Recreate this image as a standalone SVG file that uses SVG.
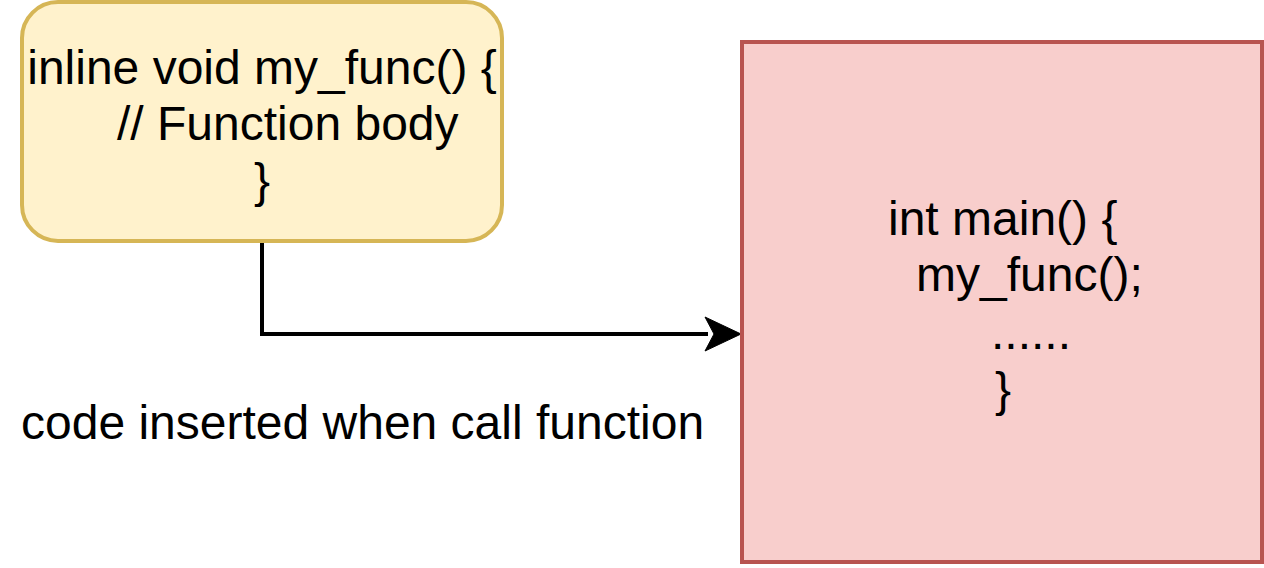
<svg xmlns="http://www.w3.org/2000/svg" width="1264" height="568" viewBox="0 0 1264 568">
<style>
.t{font-family:"Liberation Sans",Arial,sans-serif;font-size:48px;fill:#000}
</style>
<rect width="1264" height="568" fill="#ffffff"/>
<g id="connectors">
<path d="M262,243 L262,334 L708,334" fill="none" stroke="#000" stroke-width="4"/>
<path d="M741,334 L705,317 L714,334 L705,351 Z" fill="#000" stroke="#000" stroke-width="1"/>
</g>
<g id="inline-func">
<rect x="22" y="2" width="480" height="239" rx="36" ry="36" fill="#fff2cc" stroke="#d6b656" stroke-width="4"/>
<text class="t" x="262" y="84" text-anchor="middle">inline void my_func() {</text>
<text class="t" x="117" y="140">// Function body</text>
<text class="t" x="262" y="197" text-anchor="middle">}</text>
</g>
<g id="main-func">
<rect x="742" y="42" width="520" height="520" fill="#f8cecc" stroke="#b85450" stroke-width="4"/>
<text class="t" x="888" y="235">int main() {</text>
<text class="t" x="916" y="291">my_func();</text>
<text class="t" x="991" y="349">......</text>
<text class="t" x="995" y="406">}</text>
</g>
<g id="label">
<text class="t" x="21" y="439">code inserted when call function</text>
</g>
</svg>
